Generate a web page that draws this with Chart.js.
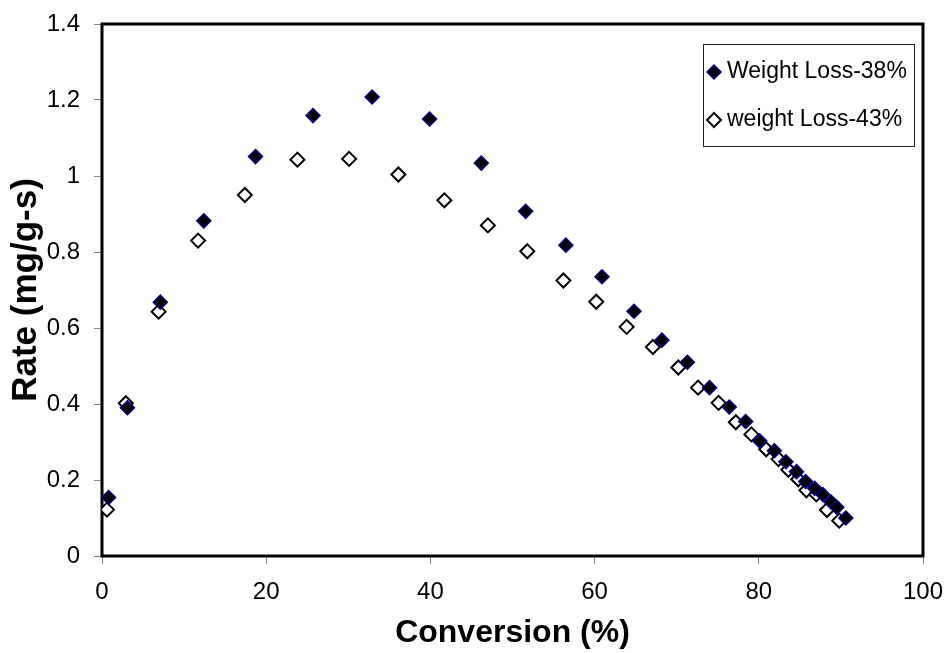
<!DOCTYPE html>
<html>
<head>
<meta charset="utf-8">
<script src="https://cdn.jsdelivr.net/npm/chart.js@4.4.1/dist/chart.umd.min.js"></script>
<style>
  html, body { margin: 0; padding: 0; background: #fff; }
  #wrap { width: 946px; height: 653px; }
</style>
</head>
<body>
<div id="wrap"><canvas id="chart" width="946" height="653"></canvas></div>
<script>
// values
const conv38 = [0.8, 3.1, 7.1, 12.4, 18.7, 25.7, 32.9, 39.9, 46.2, 51.6, 56.5, 60.9, 64.8, 68.2, 71.3, 74.0, 76.4, 78.4, 80.1, 81.9, 83.3, 84.6, 85.7, 86.8, 87.8, 88.8, 89.5, 90.6];
const rate38 = [0.154, 0.39, 0.668, 0.882, 1.051, 1.159, 1.208, 1.150, 1.034, 0.907, 0.818, 0.735, 0.644, 0.568, 0.510, 0.443, 0.392, 0.354, 0.303, 0.277, 0.248, 0.222, 0.196, 0.178, 0.162, 0.142, 0.128, 0.100];

const conv43 = [0.6, 2.9, 6.9, 11.7, 17.4, 23.8, 30.1, 36.1, 41.7, 47.0, 51.8, 56.2, 60.2, 63.9, 67.1, 70.2, 72.6, 75.1, 77.2, 79.1, 80.9, 82.4, 83.6, 84.8, 85.8, 87.0, 88.3, 89.8];
const rate43 = [0.122, 0.402, 0.643, 0.830, 0.950, 1.043, 1.045, 1.004, 0.936, 0.870, 0.802, 0.725, 0.669, 0.603, 0.550, 0.496, 0.443, 0.403, 0.352, 0.320, 0.281, 0.255, 0.227, 0.202, 0.173, 0.162, 0.121, 0.093];

const labels = ["Weight Loss-38%", "weight Loss-43%"];
const xTitle = "Conversion (%)";
const yTitle = "Rate (mg/g-s)";

const toPts = (xs, ys) => xs.map((x, i) => ({ x: x, y: ys[i] }));

Chart.defaults.font.family = 'Arial, "Liberation Sans", sans-serif';
Chart.defaults.color = "#000";

// black frame round the plot area
const frame = {
  id: "frame",
  beforeDatasetsDraw(chart) {
    const { ctx, chartArea: a } = chart;
    ctx.save();
    ctx.strokeStyle = "#000";
    ctx.lineWidth = 3;
    ctx.strokeRect(a.left, a.top, a.right - a.left, a.bottom - a.top);
    ctx.restore();
  },
};

// boxed legend inside the plot, top right
const boxLegend = {
  id: "boxLegend",
  afterDraw(chart) {
    const ctx = chart.ctx;
    const left = 703, top = 44, right = 914, bottom = 146;
    const mx = 714;
    ctx.save();
    ctx.fillStyle = "#fff";
    ctx.fillRect(left, top, right - left, bottom - top);
    ctx.strokeStyle = "#222";
    ctx.lineWidth = 1;
    ctx.strokeRect(left + 0.5, top + 0.5, right - left, bottom - top);
    ctx.font = '23px Arial, "Liberation Sans", sans-serif';
    ctx.textBaseline = "middle";
    chart.data.datasets.forEach((ds, i) => {
      const y = 72 + i * 48;
      const r = ds.pointRadius;
      ctx.fillStyle = ds.backgroundColor;
      ctx.strokeStyle = ds.borderColor;
      ctx.lineWidth = ds.borderWidth;
      ctx.beginPath();
      ctx.moveTo(mx, y - r);
      ctx.lineTo(mx + r, y);
      ctx.lineTo(mx, y + r);
      ctx.lineTo(mx - r, y);
      ctx.closePath();
      ctx.fill();
      ctx.stroke();
      ctx.fillStyle = "#000";
      ctx.fillText(ds.label, 727, y);
    });
    ctx.restore();
  },
};

new Chart(document.getElementById("chart"), {
  type: "scatter",
  data: {
    datasets: [
      {
        label: labels[0],
        data: toPts(conv38, rate38),
        pointStyle: "rectRot",
        pointRadius: 7,
        backgroundColor: "#000",
        borderColor: "#000080",
        borderWidth: 1.5,
      },
      {
        label: labels[1],
        data: toPts(conv43, rate43),
        pointStyle: "rectRot",
        pointRadius: 7,
        backgroundColor: "#fff",
        borderColor: "#000",
        borderWidth: 2,
      },
    ],
  },
  options: {
    responsive: false,
    animation: false,
    layout: { padding: { top: 24, right: 23, left: 0, bottom: 0 } },
    plugins: {
      legend: { display: false },
      tooltip: { enabled: false },
    },
    scales: {
      x: {
        type: "linear",
        min: 0,
        max: 100,
        afterFit: (s) => { s.height = 97; s.paddingLeft = 0; s.paddingRight = 0; },
        ticks: { stepSize: 20, font: { size: 24 }, padding: 14, color: "#000" },
        grid: { drawOnChartArea: false, drawTicks: true, tickLength: 8, tickColor: "#808080" },
        border: { display: false },
        title: { display: true, text: xTitle, font: { size: 32, weight: "bold" }, padding: { top: 0, bottom: 1 } },
      },
      y: {
        type: "linear",
        min: 0,
        max: 1.4,
        afterFit: (s) => { s.width = 102; s.paddingTop = 0; s.paddingBottom = 0; },
        ticks: {
          stepSize: 0.2,
          font: { size: 24 },
          padding: 14,
          color: "#000",
          callback: (v) => String(Number(v.toFixed(1))),
        },
        grid: { drawOnChartArea: false, drawTicks: true, tickLength: 8, tickColor: "#808080" },
        border: { display: false },
        title: { display: true, text: yTitle, font: { size: 35, weight: "bold" }, padding: { top: 5, bottom: 0 } },
      },
    },
  },
  plugins: [frame, boxLegend],
});
</script>
</body>
</html>
